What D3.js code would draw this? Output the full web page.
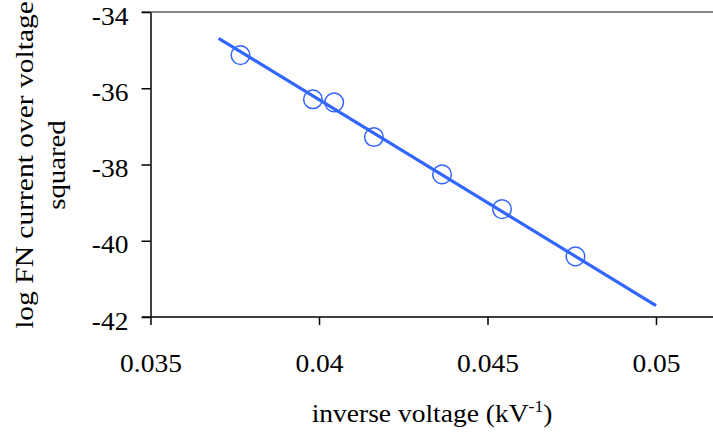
<!DOCTYPE html>
<html>
<head>
<meta charset="utf-8">
<script src="https://cdn.jsdelivr.net/npm/d3@7"></script>
<style>
  body { margin: 0; background: #fff; }
  svg text { font-family: "Liberation Serif", "Times New Roman", serif !important; }
</style>
</head>
<body>
<div id="main_div"></div>
<script>
/** data **/
const invVoltage = [0.03767, 0.03982, 0.04045, 0.04163, 0.04365, 0.04543, 0.04761];
const logFN = [-35.13, -36.29, -36.37, -37.28, -38.26, -39.17, -40.41];
const fitX = [0.03702, 0.05];
const fitY = [-34.69, -41.70];
const xTicks = [0.035, 0.04, 0.045, 0.05];
const yTicks = [-34, -36, -38, -40, -42];

const size = [713, 434];
const blue = "#3366ff";

let svg = d3.select("#main_div").append("svg")
    .attr("width", size[0])
    .attr("height", size[1]);

let xScale = d3.scaleLinear().domain([0.035, 0.05]).range([150.5, 656]);
let yScale = d3.scaleLinear().domain([-42, -34]).range([317, 12]);

/** widen a text a bit, the original font runs wider than Times */
function stretch(sel, k) {
    sel.each(function () {
        let w = this.getComputedTextLength();
        d3.select(this)
            .attr("textLength", w * k)
            .attr("lengthAdjust", "spacingAndGlyphs");
    });
}

/** top border (gray) **/
svg.append("line")
    .attr("x1", 142).attr("x2", size[0])
    .attr("y1", yScale(-34)).attr("y2", yScale(-34))
    .attr("stroke", "#888").attr("stroke-width", 2);

/** axes **/
let xAxis = d3.axisBottom(xScale).tickValues(xTicks).tickSize(8).tickSizeOuter(0)
    .tickFormat(d => String(d));
let yAxis = d3.axisLeft(yScale).tickValues(yTicks).tickSize(9).tickSizeOuter(0)
    .tickFormat(d => String(d));

let gx = svg.append("g")
    .attr("transform", "translate(0," + yScale(-42) + ")")
    .call(xAxis)
    .attr("font-size", 25);
gx.select(".domain").remove();
gx.append("line")
    .attr("x1", 142).attr("x2", size[0])
    .attr("stroke", "#000").attr("stroke-width", 1.5);
gx.selectAll(".tick line").attr("stroke-width", 1.5);
gx.selectAll(".tick text")
    .attr("y", 55).attr("dy", 0)
    .call(stretch, 1.1);

let gy = svg.append("g")
    .attr("transform", "translate(" + xScale(0.035) + ",0)")
    .call(yAxis)
    .attr("font-size", 25);
gy.select(".domain").attr("stroke-width", 1.5);
gy.selectAll(".tick line").attr("stroke-width", 1.5);
gy.selectAll(".tick text")
    .attr("x", -22)
    .attr("dy", 12)
    .call(stretch, 1.1);

/** fit line **/
let fit = fitX.map((x, i) => [x, fitY[i]]);
svg.append("path")
    .datum(fit)
    .attr("d", d3.line().x(d => xScale(d[0])).y(d => yScale(d[1])))
    .attr("stroke", blue).attr("stroke-width", 3.2).attr("fill", "none");

/** data points **/
svg.append("g").selectAll("circle")
    .data(invVoltage.map((x, i) => [x, logFN[i]]))
    .enter().append("circle")
    .attr("cx", d => xScale(d[0]))
    .attr("cy", d => yScale(d[1]))
    .attr("r", 9.3)
    .attr("fill", "none")
    .attr("stroke", blue)
    .attr("stroke-width", 1.5);

/** axis titles **/
let xt = svg.append("text")
    .attr("x", 432).attr("y", 422)
    .attr("text-anchor", "middle")
    .attr("font-size", 25);
xt.append("tspan").text("inverse voltage (kV");
xt.append("tspan").text("-1").attr("dy", -10).attr("font-size", 16);
xt.append("tspan").text(")").attr("dy", 10);
xt.call(stretch, 1.1);

let yt = svg.append("g")
    .attr("transform", "translate(33,165) rotate(-90)")
    .attr("font-size", 25);
yt.append("text").attr("text-anchor", "middle").attr("y", 0)
    .text("log FN current over voltage").call(stretch, 1.18);
yt.append("text").attr("text-anchor", "middle").attr("y", 32)
    .text("squared").call(stretch, 1.15);
</script>
</body>
</html>
